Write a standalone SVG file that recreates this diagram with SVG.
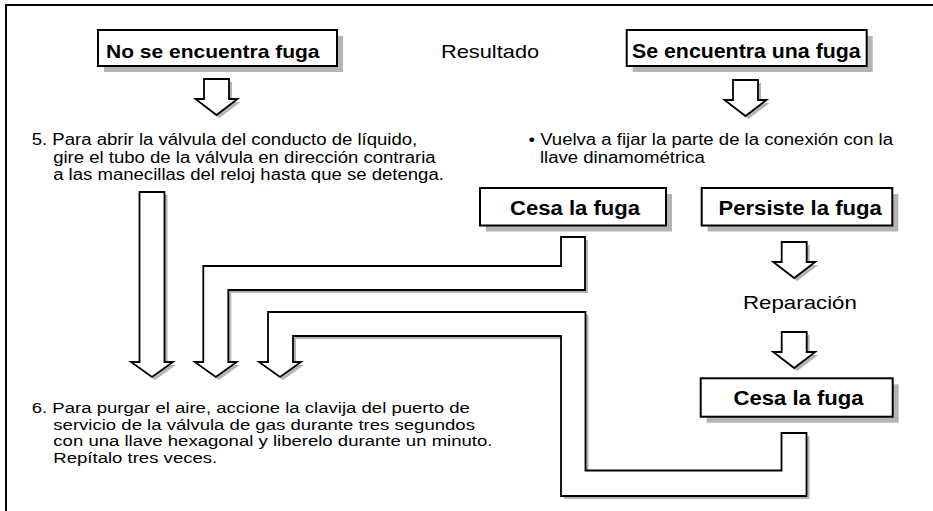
<svg xmlns="http://www.w3.org/2000/svg" xmlns:xlink="http://www.w3.org/1999/xlink" width="933" height="511" viewBox="0 0 933 511">
<style>
.frame{fill:none;stroke:#000;stroke-width:2}
.box{fill:#fff;stroke:#000;stroke-width:2}
.shadow{fill:#b4b4b4;stroke:none}
.arrow{fill:#fff;stroke:#000;stroke-width:1.8;stroke-linejoin:miter}
.t{font-family:"Liberation Sans",Arial,Helvetica,sans-serif;fill:#000}
.body{font-size:16px}
.b{font-weight:bold}
</style>
<defs>
<path id="sa" d="M-12.5,0 H12.5 V20 H21 L0,36 L-21,20 H-12.5 Z"/>
</defs>
<rect class="frame" x="6" y="5" width="1000" height="600"/>

<g id="connectors">
  <g id="arrow-nofuga">
    <use xlink:href="#sa" href="#sa" class="shadow" x="219.5" y="82"/>
    <use xlink:href="#sa" href="#sa" class="arrow" x="216.5" y="79"/>
  </g>
  <g id="arrow-fuga">
    <use xlink:href="#sa" href="#sa" class="shadow" x="748.5" y="83"/>
    <use xlink:href="#sa" href="#sa" class="arrow" x="745.5" y="80"/>
  </g>
  <g id="arrow-persiste">
    <use xlink:href="#sa" href="#sa" class="shadow" x="797.2" y="245"/>
    <use xlink:href="#sa" href="#sa" class="arrow" x="794.2" y="242"/>
  </g>
  <g id="arrow-reparacion">
    <use xlink:href="#sa" href="#sa" class="shadow" x="797.2" y="335"/>
    <use xlink:href="#sa" href="#sa" class="arrow" x="794.2" y="332"/>
  </g>
  <g id="arrow-step5">
    <path class="shadow" transform="translate(3,3)" d="M139.5,192 H164.5 V362 H173 L152,377 L131,362 H139.5 Z"/>
    <path class="arrow" d="M139.5,192 H164.5 V362 H173 L152,377 L131,362 H139.5 Z"/>
  </g>
  <g id="pipe-cesa1">
    <path class="shadow" transform="translate(3,3)" d="M561,237 H585 V290 H228.3 V362 H236.8 L215.8,377 L194.8,362 H203.3 V266 H561 Z"/>
    <path class="arrow" d="M561,237 H585 V290 H228.3 V362 H236.8 L215.8,377 L194.8,362 H203.3 V266 H561 Z"/>
  </g>
  <g id="pipe-cesa2">
    <path class="shadow" transform="translate(3,3)" d="M781.5,433 H806.5 V496 H561 V336 H293 V362 H301 L280,377 L259,362 H268 V312 H585.5 V470.5 H781.5 Z"/>
    <path class="arrow" d="M781.5,433 H806.5 V496 H561 V336 H293 V362 H301 L280,377 L259,362 H268 V312 H585.5 V470.5 H781.5 Z"/>
  </g>
</g>

<g id="node-nofuga">
  <rect class="shadow" x="104" y="36" width="239" height="36"/>
  <rect class="box" x="98" y="30" width="239" height="36"/>
  <text class="t b" font-size="19.1" transform="translate(106,58) scale(1.1,1)">No se encuentra fuga</text>
</g>
<g id="node-resultado">
  <text class="t" font-size="18.8" transform="translate(441,58) scale(1.16,1)">Resultado</text>
</g>
<g id="node-fuga">
  <rect class="shadow" x="632.7" y="36" width="240" height="36"/>
  <rect class="box" x="626.7" y="30" width="240" height="36"/>
  <text class="t b" font-size="19.4" transform="translate(632,58) scale(1.1,1)">Se encuentra una fuga</text>
</g>
<g id="node-step5">
  <text class="t body" transform="translate(31.7,145) scale(1.16,1)"><tspan x="0" y="0">5. Para abrir la válvula del conducto de líquido,</tspan><tspan x="18.5" y="17.8">gire el tubo de la válvula en dirección contraria</tspan><tspan x="18.5" y="35.5">a las manecillas del reloj hasta que se detenga.</tspan></text>
</g>
<g id="node-reajuste">
  <text class="t body" transform="translate(528.5,145) scale(1.16,1)"><tspan x="0" y="0">• Vuelva a fijar la parte de la conexión con la</tspan><tspan x="9.9" y="17.7">llave dinamométrica</tspan></text>
</g>
<g id="node-cesa1">
  <rect class="shadow" x="486" y="194" width="186" height="37.5"/>
  <rect class="box" x="480" y="188" width="186" height="37.5"/>
  <text class="t b" font-size="20.1" transform="translate(510,215) scale(1.1,1)">Cesa la fuga</text>
</g>
<g id="node-persiste">
  <rect class="shadow" x="707.7" y="194" width="190.6" height="37.5"/>
  <rect class="box" x="701.7" y="188" width="190.6" height="37.5"/>
  <text class="t b" font-size="20.1" transform="translate(718.5,215) scale(1.1,1)">Persiste la fuga</text>
</g>
<g id="node-reparacion">
  <text class="t" font-size="19.2" transform="translate(743,309) scale(1.16,1)">Reparación</text>
</g>
<g id="node-cesa2">
  <rect class="shadow" x="706.7" y="384.3" width="192" height="38.4"/>
  <rect class="box" x="700.7" y="378.3" width="192" height="38.4"/>
  <text class="t b" font-size="20.1" transform="translate(733.5,405) scale(1.1,1)">Cesa la fuga</text>
</g>
<g id="node-step6">
  <text class="t" font-size="15" transform="translate(31.7,413) scale(1.237,1)"><tspan x="0" y="0">6. Para purgar el aire, accione la clavija del puerto de</tspan><tspan x="17.5" y="16.8">servicio de la válvula de gas durante tres segundos</tspan><tspan x="17.5" y="33.5">con una llave hexagonal y liberelo durante un minuto.</tspan><tspan x="17.5" y="50.2">Repítalo tres veces.</tspan></text>
</g>
</svg>
